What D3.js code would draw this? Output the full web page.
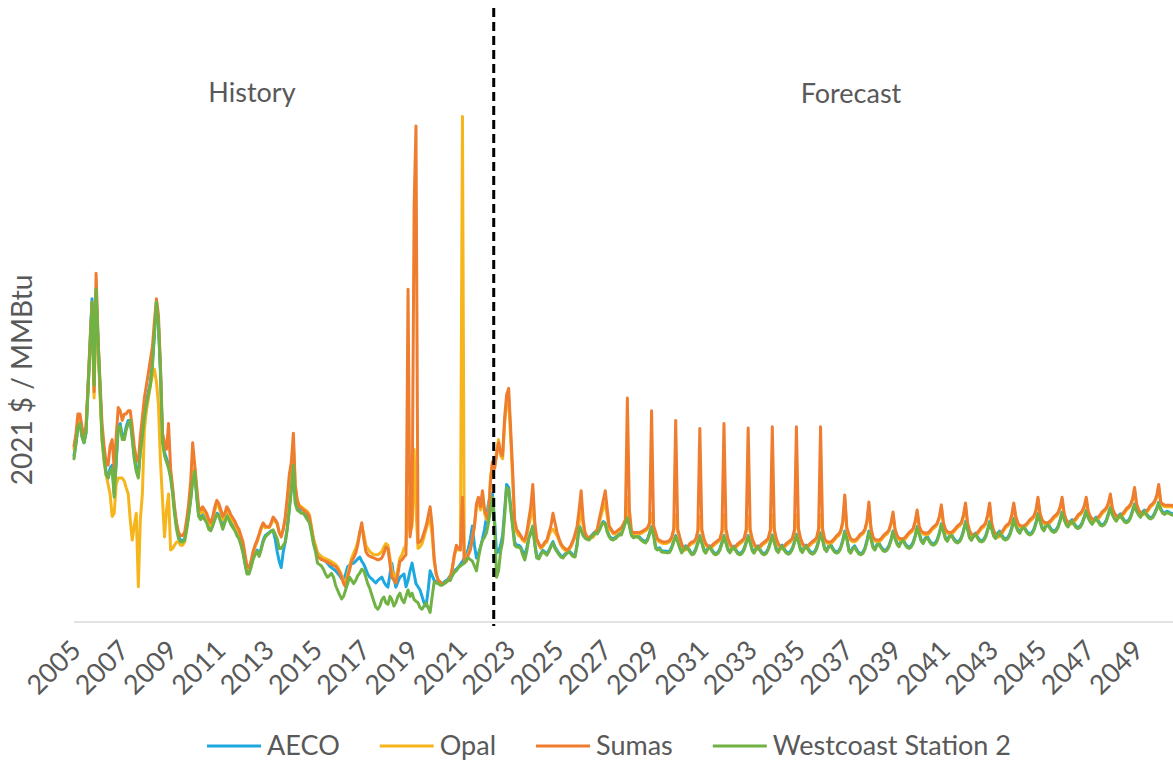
<!DOCTYPE html>
<html><head><meta charset="utf-8">
<script src="https://cdn.jsdelivr.net/npm/d3@7"></script>
<style>
body{margin:0;background:#fff;}
svg{display:block;font-family:Lato,"Open Sans",sans-serif;}
</style></head><body>
<svg id="chart" width="1173" height="770"></svg>
<script>
const seriesNames = ["AECO", "Opal", "Sumas", "Westcoast Station 2"];
const seriesColors = ["#1ea8e0", "#f7b51c", "#ef7d2f", "#70b244"];
const tickLabels = ["2005","2007","2009","2011","2013","2015","2017","2019","2021","2023","2025","2027","2029","2031","2033","2035","2037","2039","2041","2043","2045","2047","2049"];
const periodLabels = ["History", "Forecast"];
const yAxisTitle = "2021 $ / MMBtu";
const forecastStart = "2022-05-20";

// Monthly values, Jan 2005 - Jul 2050 (2021 $/MMBtu)
const aeco = [
5.2,5.6,6.1,6.25,5.8,5.6,5.9,7.3,8.7,10.1,7.5,10.3,
8.6,7.2,5.9,5.2,4.7,4.5,4.8,4.9,4.0,5.0,6.1,6.2,
5.8,5.8,6.1,6.3,6.3,5.8,5.2,4.8,4.6,5.4,5.9,6.4,
6.9,7.2,7.5,8.1,9.0,10.0,9.3,7.8,5.7,5.3,5.1,4.9,
4.6,4.1,3.5,3.0,2.7,2.55,2.55,2.6,3.0,3.4,3.9,4.5,
4.7,3.9,3.35,3.25,3.35,3.25,3.15,2.95,2.9,3.05,3.25,3.4,
3.35,3.15,2.95,3.15,3.35,3.3,3.15,3.05,2.95,2.8,2.7,2.5,
2.2,1.85,1.55,1.55,1.75,2.0,2.15,2.25,2.1,2.3,2.55,2.7,
2.75,2.8,2.85,2.85,2.6,2.2,1.9,1.7,2.2,2.5,2.95,3.55,
4.2,4.95,3.8,3.6,3.55,3.5,3.5,3.4,3.3,3.2,2.9,2.6,
2.3,2.16,2.1,2.0,1.95,1.9,1.84,1.75,1.7,1.65,1.6,1.53,
1.45,1.35,1.31,1.5,1.72,1.78,1.82,1.84,1.9,1.97,2.03,1.9,
1.8,1.65,1.5,1.4,1.35,1.28,1.22,1.3,1.35,1.4,1.25,1.15,
1.09,1.5,1.84,1.4,1.09,1.25,1.4,1.45,1.5,1.1,1.3,1.6,
1.84,1.5,1.2,1.1,1.0,0.8,0.6,0.5,1.0,1.6,1.45,1.3,
1.25,1.22,1.2,1.2,1.25,1.3,1.35,1.45,1.5,1.6,1.65,1.72,
1.8,1.9,2.0,2.1,2.3,2.6,3.0,2.4,2.0,2.15,2.34,2.6,
2.9,3.3,3.7,4.0,4.0,3.2,2.16,2.2,2.4,2.7,3.5,4.3,
4.2,3.6,3.1,2.5,2.4,2.4,2.35,2.2,2.1,2.3,2.65,2.8,
3.0,2.45,2.05,2.02,2.14,2.24,2.19,2.13,2.24,2.39,2.51,2.34,
2.24,2.14,2.07,2.04,2.12,2.19,2.23,2.16,2.09,2.07,2.44,3.01,
2.89,2.74,2.66,2.62,2.6,2.69,2.76,2.82,2.79,2.89,3.04,3.14,
3.09,2.84,2.7,2.62,2.6,2.64,2.7,2.76,2.76,2.94,3.14,3.29,
3.04,2.74,2.67,2.7,2.7,2.66,2.59,2.54,2.51,2.59,2.79,2.98,
2.74,2.34,2.29,2.32,2.23,2.22,2.21,2.2,2.22,2.34,2.54,2.7,
2.54,2.34,2.2,2.29,2.38,2.34,2.24,2.14,2.16,2.29,2.49,2.7,
2.5,2.26,2.19,2.32,2.38,2.26,2.17,2.14,2.18,2.29,2.49,2.7,
2.5,2.27,2.2,2.33,2.37,2.25,2.16,2.14,2.19,2.3,2.5,2.7,
2.51,2.26,2.19,2.32,2.38,2.26,2.17,2.14,2.18,2.3,2.5,2.72,
2.52,2.28,2.21,2.34,2.4,2.28,2.19,2.16,2.2,2.31,2.51,2.74,
2.54,2.28,2.21,2.34,2.4,2.28,2.19,2.16,2.2,2.32,2.54,2.79,
2.59,2.31,2.24,2.37,2.43,2.31,2.22,2.19,2.23,2.34,2.56,2.84,
2.64,2.26,2.19,2.32,2.38,2.26,2.17,2.14,2.18,2.31,2.54,2.84,
2.64,2.36,2.29,2.42,2.48,2.36,2.27,2.24,2.28,2.39,2.59,2.84,
2.64,2.46,2.39,2.52,2.58,2.46,2.37,2.34,2.38,2.49,2.7,2.98,
2.78,2.56,2.49,2.62,2.68,2.56,2.47,2.44,2.48,2.59,2.79,3.07,
2.87,2.63,2.56,2.69,2.75,2.63,2.54,2.51,2.55,2.66,2.86,3.14,
2.94,2.66,2.59,2.72,2.78,2.66,2.57,2.54,2.58,2.69,2.89,3.14,
2.94,2.72,2.65,2.78,2.84,2.72,2.63,2.6,2.64,2.75,2.95,3.24,
3.04,2.88,2.81,2.94,3.0,2.88,2.79,2.76,2.8,2.91,3.11,3.39,
3.19,2.96,2.89,3.02,3.08,2.96,2.87,2.84,2.88,2.99,3.19,3.44,
3.24,3.08,3.01,3.14,3.2,3.08,2.99,2.96,3.0,3.11,3.29,3.49,
3.29,3.16,3.09,3.22,3.28,3.16,3.07,3.04,3.08,3.19,3.39,3.59,
3.39,3.26,3.19,3.32,3.38,3.26,3.17,3.14,3.18,3.29,3.49,3.69,
3.49,3.38,3.31,3.44,3.5,3.38,3.29,3.26,3.3,3.41,3.56,3.74,
3.54,3.44,3.4,3.46,3.44,3.4,3.38
];

const opal = [
5.4,5.8,6.3,6.4,6.0,5.7,6.0,7.3,8.5,9.8,7.0,10.2,
8.6,7.0,5.7,5.0,4.6,4.3,4.0,3.3,3.4,4.3,4.5,4.5,
4.5,4.4,4.2,4.0,3.2,2.56,3.0,3.4,1.1,3.2,4.0,6.0,
6.6,7.0,7.4,7.7,7.9,7.5,6.8,5.0,3.8,2.66,3.5,4.0,
2.25,2.3,2.4,2.5,2.5,2.4,2.4,2.5,2.9,3.4,3.9,4.7,
4.8,4.0,3.5,3.4,3.5,3.4,3.3,3.1,3.0,3.2,3.5,3.7,
3.6,3.4,3.2,3.3,3.5,3.4,3.25,3.15,3.05,2.9,2.8,2.6,
2.4,2.0,1.7,1.65,1.85,2.15,2.35,2.5,2.7,2.9,3.05,2.95,
2.95,2.95,3.05,3.2,3.15,3.05,2.8,2.7,2.9,3.2,3.8,4.4,
4.8,5.6,4.2,3.8,3.65,3.6,3.55,3.5,3.45,3.35,3.0,2.6,
2.4,2.15,2.1,2.05,2.0,1.98,1.95,1.92,1.88,1.84,1.8,1.72,
1.6,1.45,1.3,1.2,1.5,1.75,2.0,2.15,2.3,2.5,2.8,3.0,
2.75,2.4,2.3,2.2,2.15,2.1,2.1,2.1,2.15,2.2,2.35,2.45,
2.4,2.0,1.6,1.45,1.4,1.65,2.0,2.1,2.3,2.4,3.9,2.8,
3.0,5.4,3.5,2.3,2.35,2.45,2.65,2.9,3.1,3.2,2.7,1.9,
1.5,1.3,1.25,1.2,1.2,1.25,1.3,1.4,1.65,2.05,2.3,2.25,
2.3,15.8,1.9,1.95,2.15,2.3,2.6,3.0,3.6,3.8,3.5,4.0,
3.4,3.2,3.3,4.5,5.0,4.8,5.3,5.7,5.2,5.1,6.2,6.8,
7.0,5.7,4.5,3.0,2.8,2.7,2.65,2.55,2.5,2.7,3.0,3.3,
3.7,2.9,2.55,2.4,2.3,2.35,2.45,2.5,2.7,2.85,2.9,2.8,
2.7,2.55,2.4,2.3,2.25,2.2,2.25,2.35,2.5,2.65,2.85,3.1,
3.6,3.0,2.7,2.6,2.6,2.63,2.65,2.75,2.85,3.1,3.35,3.55,
3.7,3.3,2.9,2.85,2.75,2.75,2.8,2.85,2.9,3.0,3.15,3.9,
3.1,2.8,2.75,2.75,2.75,2.75,2.77,2.81,2.85,2.9,3.05,3.4,
2.95,2.75,2.55,2.5,2.47,2.45,2.45,2.47,2.5,2.6,2.85,3.35,
2.8,2.6,2.4,2.25,2.25,2.3,2.4,2.45,2.47,2.55,2.8,3.3,
2.8,2.55,2.4,2.33,2.3,2.33,2.4,2.45,2.5,2.55,2.8,3.35,
2.8,2.55,2.4,2.3,2.27,2.33,2.4,2.45,2.5,2.57,2.83,3.3,
2.8,2.55,2.4,2.3,2.27,2.33,2.4,2.45,2.5,2.57,2.83,3.35,
2.8,2.55,2.4,2.31,2.28,2.33,2.4,2.45,2.5,2.57,2.83,3.35,
2.82,2.57,2.42,2.32,2.29,2.35,2.41,2.47,2.51,2.58,2.85,3.35,
2.8,2.55,2.47,2.45,2.45,2.5,2.57,2.65,2.7,2.8,3.1,3.87,
2.9,2.7,2.55,2.51,2.51,2.55,2.63,2.71,2.75,2.85,3.1,3.65,
2.9,2.61,2.53,2.51,2.51,2.55,2.63,2.7,2.75,2.83,3.05,3.36,
2.85,2.65,2.57,2.55,2.55,2.59,2.67,2.75,2.8,2.87,3.1,3.42,
2.95,2.8,2.75,2.73,2.73,2.77,2.85,2.92,2.97,3.05,3.25,3.58,
3.05,2.85,2.77,2.75,2.75,2.8,2.87,2.95,3.0,3.07,3.3,3.64,
3.05,2.8,2.7,2.67,2.69,2.75,2.83,2.92,2.97,3.05,3.3,3.64,
3.05,2.8,2.7,2.65,2.67,2.75,2.85,2.95,3.0,3.07,3.3,3.64,
3.25,3.05,2.97,2.95,2.95,3.0,3.07,3.15,3.2,3.27,3.45,3.82,
3.35,3.15,3.07,3.05,3.05,3.1,3.17,3.25,3.3,3.37,3.55,3.82,
3.35,3.15,3.07,3.05,3.07,3.13,3.2,3.3,3.35,3.42,3.57,3.82,
3.4,3.25,3.17,3.15,3.17,3.23,3.3,3.4,3.45,3.52,3.67,3.92,
3.5,3.35,3.27,3.25,3.27,3.33,3.4,3.5,3.55,3.63,3.8,4.12,
3.65,3.45,3.37,3.35,3.37,3.43,3.5,3.6,3.65,3.73,3.9,4.22,
3.7,3.63,3.61,3.6,3.6,3.6,3.59
];

const sumas = [
5.5,5.9,6.5,6.5,6.1,5.8,6.1,7.4,8.8,10.0,7.2,10.9,
8.8,7.4,6.2,5.5,5.0,4.9,5.5,5.7,4.8,5.8,6.7,6.6,
6.3,6.5,6.5,6.6,6.6,6.1,5.5,5.1,5.0,5.8,6.4,7.0,
7.4,7.8,8.2,8.6,9.4,10.1,9.6,8.0,5.9,5.6,5.4,6.2,
4.8,4.2,3.6,3.1,2.8,2.7,2.7,2.8,3.2,3.7,4.4,5.6,
4.9,4.2,3.6,3.5,3.6,3.5,3.4,3.2,3.1,3.3,3.6,3.8,
3.7,3.5,3.3,3.4,3.6,3.5,3.35,3.25,3.15,3.0,2.9,2.7,
2.5,2.1,1.75,1.7,1.9,2.2,2.4,2.55,2.75,2.95,3.1,3.0,
2.98,2.97,3.1,3.28,3.2,3.1,2.8,2.66,2.9,3.28,3.9,4.6,
5.0,5.9,4.3,3.8,3.6,3.55,3.5,3.45,3.4,3.3,2.9,2.5,
2.3,2.03,2.0,1.95,1.93,1.9,1.87,1.84,1.8,1.76,1.74,1.65,
1.55,1.4,1.2,1.09,1.4,1.63,1.9,2.0,2.16,2.4,2.8,3.1,
2.6,2.2,2.1,2.05,2.03,2.0,1.97,1.94,1.96,2.0,2.15,2.34,
2.3,1.8,1.4,1.3,1.22,1.5,1.9,1.94,2.03,2.1,10.4,2.66,
3.2,13.0,15.5,2.47,2.5,2.6,2.8,3.0,3.3,3.6,3.0,2.0,
1.5,1.3,1.25,1.2,1.2,1.25,1.3,1.4,1.7,2.1,2.4,2.3,
2.25,3.9,1.84,1.9,2.1,2.25,2.6,3.0,3.7,3.9,3.6,4.1,
3.5,3.3,3.2,4.4,5.0,4.8,5.2,5.6,5.3,5.2,6.4,7.1,
7.3,6.0,4.8,3.2,2.9,2.8,2.7,2.6,2.56,2.8,3.2,3.6,
4.3,3.1,2.6,2.45,2.34,2.4,2.5,2.56,2.8,3.0,3.4,3.1,
2.8,2.6,2.45,2.35,2.3,2.25,2.3,2.4,2.55,2.75,3.0,3.5,
4.1,3.2,2.8,2.65,2.65,2.68,2.7,2.8,2.9,3.2,3.5,3.8,
4.1,3.5,3.0,2.9,2.8,2.8,2.85,2.9,2.95,3.05,3.2,7.0,
3.5,2.85,2.8,2.8,2.8,2.8,2.82,2.86,2.9,2.95,3.1,6.6,
3.0,2.8,2.6,2.55,2.52,2.5,2.5,2.52,2.55,2.65,2.9,6.3,
2.9,2.65,2.45,2.3,2.3,2.35,2.45,2.5,2.52,2.6,2.85,6.05,
2.9,2.6,2.45,2.38,2.35,2.38,2.45,2.5,2.55,2.6,2.85,6.2,
2.9,2.6,2.45,2.35,2.32,2.38,2.45,2.5,2.55,2.62,2.88,6.06,
2.9,2.6,2.45,2.35,2.32,2.38,2.45,2.5,2.55,2.62,2.88,6.1,
2.9,2.6,2.45,2.36,2.33,2.38,2.45,2.5,2.55,2.62,2.88,6.1,
2.92,2.62,2.47,2.37,2.34,2.4,2.46,2.52,2.56,2.63,2.9,6.1,
2.9,2.6,2.52,2.5,2.5,2.55,2.62,2.7,2.75,2.85,3.15,3.97,
2.95,2.75,2.6,2.56,2.56,2.6,2.68,2.76,2.8,2.9,3.15,3.75,
2.95,2.66,2.58,2.56,2.56,2.6,2.68,2.75,2.8,2.88,3.1,3.44,
2.9,2.7,2.62,2.6,2.6,2.64,2.72,2.8,2.85,2.92,3.15,3.5,
3.0,2.85,2.8,2.78,2.78,2.82,2.9,2.97,3.02,3.1,3.3,3.66,
3.1,2.9,2.82,2.8,2.8,2.85,2.92,3.0,3.05,3.12,3.35,3.72,
3.1,2.85,2.75,2.72,2.74,2.8,2.88,2.97,3.02,3.1,3.35,3.72,
3.1,2.85,2.75,2.7,2.72,2.8,2.9,3.0,3.05,3.12,3.35,3.72,
3.3,3.1,3.02,3.0,3.0,3.05,3.12,3.2,3.25,3.32,3.5,3.9,
3.4,3.2,3.12,3.1,3.1,3.15,3.22,3.3,3.35,3.42,3.6,3.9,
3.4,3.2,3.12,3.1,3.12,3.18,3.25,3.35,3.4,3.47,3.62,3.9,
3.45,3.3,3.22,3.2,3.22,3.28,3.35,3.45,3.5,3.57,3.72,4.0,
3.55,3.4,3.32,3.3,3.32,3.38,3.45,3.55,3.6,3.68,3.85,4.2,
3.7,3.5,3.42,3.4,3.42,3.48,3.55,3.65,3.7,3.78,3.95,4.3,
3.75,3.68,3.66,3.65,3.65,3.65,3.64
];

const westcoast = [
5.1,5.6,6.1,6.2,5.8,5.6,5.9,7.2,8.6,10.0,7.4,10.4,
8.8,7.2,5.7,5.1,4.6,4.5,4.7,4.8,3.9,5.0,6.1,6.1,
5.7,5.7,6.0,6.2,6.3,5.7,5.1,4.7,4.5,5.3,5.8,6.4,
6.8,7.1,7.4,8.0,9.0,10.0,9.3,7.8,5.6,5.2,5.0,4.8,
4.5,4.0,3.4,2.9,2.6,2.5,2.5,2.55,2.9,3.3,3.8,4.4,
4.7,3.9,3.3,3.2,3.3,3.2,3.1,2.9,2.85,3.0,3.2,3.35,
3.3,3.1,2.9,3.1,3.3,3.2,3.05,2.95,2.85,2.7,2.6,2.4,
2.15,1.8,1.5,1.5,1.7,1.95,2.1,2.2,2.05,2.25,2.5,2.65,
2.72,2.78,2.83,2.88,2.75,2.6,2.3,2.3,2.4,2.5,2.9,3.5,
4.1,4.9,3.7,3.5,3.45,3.4,3.4,3.3,3.2,3.1,2.8,2.45,
2.2,1.84,1.8,1.75,1.65,1.5,1.4,1.45,1.52,1.4,1.15,1.0,
0.85,0.72,0.8,1.0,1.2,1.4,1.3,1.2,1.3,1.45,1.53,1.65,
1.6,1.4,1.2,1.05,0.85,0.65,0.47,0.4,0.5,0.7,0.78,0.6,
0.55,0.8,0.7,0.5,0.6,0.8,0.9,0.7,0.6,0.8,1.0,0.8,
0.9,0.7,0.65,0.6,0.45,0.4,0.5,0.6,0.45,0.3,0.8,1.25,
1.22,1.2,1.15,1.15,1.2,1.25,1.3,1.3,1.45,1.55,1.6,1.7,
1.75,1.8,1.84,1.95,2.0,1.95,1.9,1.75,1.6,2.0,2.34,2.55,
2.65,2.8,3.1,3.5,3.9,3.1,1.4,1.6,2.2,2.5,3.3,4.2,
4.1,3.5,3.0,2.4,2.34,2.34,2.3,2.1,1.94,2.2,2.6,2.75,
2.97,2.4,2.0,1.97,2.1,2.2,2.15,2.09,2.2,2.35,2.47,2.3,
2.2,2.1,2.03,2.0,2.08,2.15,2.19,2.12,2.05,2.03,2.4,2.97,
2.85,2.7,2.62,2.58,2.56,2.65,2.72,2.78,2.75,2.85,3.0,3.1,
3.05,2.8,2.66,2.58,2.56,2.6,2.66,2.72,2.72,2.9,3.1,3.25,
3.0,2.7,2.63,2.66,2.66,2.62,2.55,2.5,2.47,2.55,2.75,2.94,
2.7,2.3,2.25,2.28,2.19,2.18,2.17,2.16,2.18,2.3,2.5,2.66,
2.5,2.3,2.16,2.25,2.34,2.3,2.2,2.1,2.12,2.25,2.45,2.66,
2.46,2.22,2.15,2.28,2.34,2.22,2.13,2.1,2.14,2.25,2.45,2.66,
2.46,2.23,2.16,2.29,2.33,2.21,2.12,2.1,2.15,2.26,2.46,2.66,
2.47,2.22,2.15,2.28,2.34,2.22,2.13,2.1,2.14,2.26,2.46,2.68,
2.48,2.24,2.17,2.3,2.36,2.24,2.15,2.12,2.16,2.27,2.47,2.7,
2.5,2.24,2.17,2.3,2.36,2.24,2.15,2.12,2.16,2.28,2.5,2.75,
2.55,2.27,2.2,2.33,2.39,2.27,2.18,2.15,2.19,2.3,2.52,2.8,
2.6,2.22,2.15,2.28,2.34,2.22,2.13,2.1,2.14,2.27,2.5,2.8,
2.6,2.32,2.25,2.38,2.44,2.32,2.23,2.2,2.24,2.35,2.55,2.8,
2.6,2.42,2.35,2.48,2.54,2.42,2.33,2.3,2.34,2.45,2.66,2.94,
2.74,2.52,2.45,2.58,2.64,2.52,2.43,2.4,2.44,2.55,2.75,3.03,
2.83,2.59,2.52,2.65,2.71,2.59,2.5,2.47,2.51,2.62,2.82,3.1,
2.9,2.62,2.55,2.68,2.74,2.62,2.53,2.5,2.54,2.65,2.85,3.1,
2.9,2.68,2.61,2.74,2.8,2.68,2.59,2.56,2.6,2.71,2.91,3.2,
3.0,2.84,2.77,2.9,2.96,2.84,2.75,2.72,2.76,2.87,3.07,3.35,
3.15,2.92,2.85,2.98,3.04,2.92,2.83,2.8,2.84,2.95,3.15,3.4,
3.2,3.04,2.97,3.1,3.16,3.04,2.95,2.92,2.96,3.07,3.25,3.45,
3.25,3.12,3.05,3.18,3.24,3.12,3.03,3.0,3.04,3.15,3.35,3.55,
3.35,3.22,3.15,3.28,3.34,3.22,3.13,3.1,3.14,3.25,3.45,3.65,
3.45,3.34,3.27,3.4,3.46,3.34,3.25,3.22,3.26,3.37,3.52,3.7,
3.5,3.4,3.36,3.42,3.4,3.36,3.34
];

const seriesValues = [aeco, opal, sumas, westcoast];

const width = 1173, height = 770;
const svg = d3.select("#chart");
const months = d3.timeMonth.range(new Date(2005, 0, 1), new Date(2050, 7, 1));

const x = d3.scaleTime()
  .domain([new Date(2005, 0, 1), new Date(2050, 0, 1)])
  .range([74, 1160.75]);
const y = d3.scaleLinear().domain([0, 19.4375]).range([622, 0]);

const textColor = "#595959";

// axis baseline
svg.append("line")
  .attr("x1", x(new Date(2005, 0, 1))).attr("x2", width)
  .attr("y1", y(0)).attr("y2", y(0))
  .attr("stroke", "#d9d9d9").attr("stroke-width", 1.6);

// x axis tick labels
const xAxis = d3.axisBottom(x)
  .tickValues(tickLabels.map(t => new Date(+t, 0, 1)))
  .tickFormat(d3.timeFormat("%Y"))
  .tickSize(0);
const gx = svg.append("g").attr("transform", `translate(0,${y(0)})`).call(xAxis);
gx.select(".domain").remove();
gx.selectAll(".tick text")
  .attr("fill", textColor)
  .attr("font-size", 27)
  .attr("font-family", "Lato, 'Open Sans', sans-serif")
  .attr("text-anchor", "end")
  .attr("dy", null).attr("y", null)
  .attr("transform", "translate(8,30) rotate(-45)");

// series lines
const line = d3.line()
  .x((d, i) => x(months[i]))
  .y(d => y(d));

svg.append("g").selectAll("path")
  .data(seriesValues)
  .join("path")
  .attr("d", vals => line(vals.slice(0, months.length)))
  .attr("fill", "none")
  .attr("stroke", (d, i) => seriesColors[i])
  .attr("stroke-width", 3)
  .attr("stroke-linejoin", "round")
  .attr("stroke-linecap", "round");

// forecast divider
const fx = x(d3.timeParse("%Y-%m-%d")(forecastStart));
svg.append("line")
  .attr("x1", fx).attr("x2", fx)
  .attr("y1", 8).attr("y2", 626)
  .attr("stroke", "#000").attr("stroke-width", 3)
  .attr("stroke-dasharray", "9,5");

// period labels
svg.append("text").text(periodLabels[0])
  .attr("x", 252).attr("y", 102)
  .attr("text-anchor", "middle").attr("font-size", 27).attr("fill", textColor);
svg.append("text").text(periodLabels[1])
  .attr("x", 851).attr("y", 103)
  .attr("text-anchor", "middle").attr("font-size", 27).attr("fill", textColor);

// y axis title
svg.append("text").text(yAxisTitle)
  .attr("transform", "translate(32,380) rotate(-90)")
  .attr("text-anchor", "middle").attr("font-size", 28).attr("fill", textColor);

// legend
const legend = svg.append("g");
const legY = 746;
const legGap = 40;
let cx = 0;
seriesNames.forEach((name, i) => {
  const g = legend.append("g");
  g.append("line").attr("x1", 0).attr("x2", 54).attr("y1", 0).attr("y2", 0)
    .attr("stroke", seriesColors[i]).attr("stroke-width", 3);
  const t = g.append("text").text(name).attr("x", 60).attr("y", 0)
    .attr("dy", "0.35em").attr("font-size", 27).attr("fill", textColor);
  const w = 60 + t.node().getComputedTextLength();
  g.attr("transform", `translate(${cx},${legY})`);
  cx += w + legGap;
});
const totalW = cx - legGap;
legend.attr("transform", `translate(${609 - totalW / 2},0)`);
</script>
</body></html>
